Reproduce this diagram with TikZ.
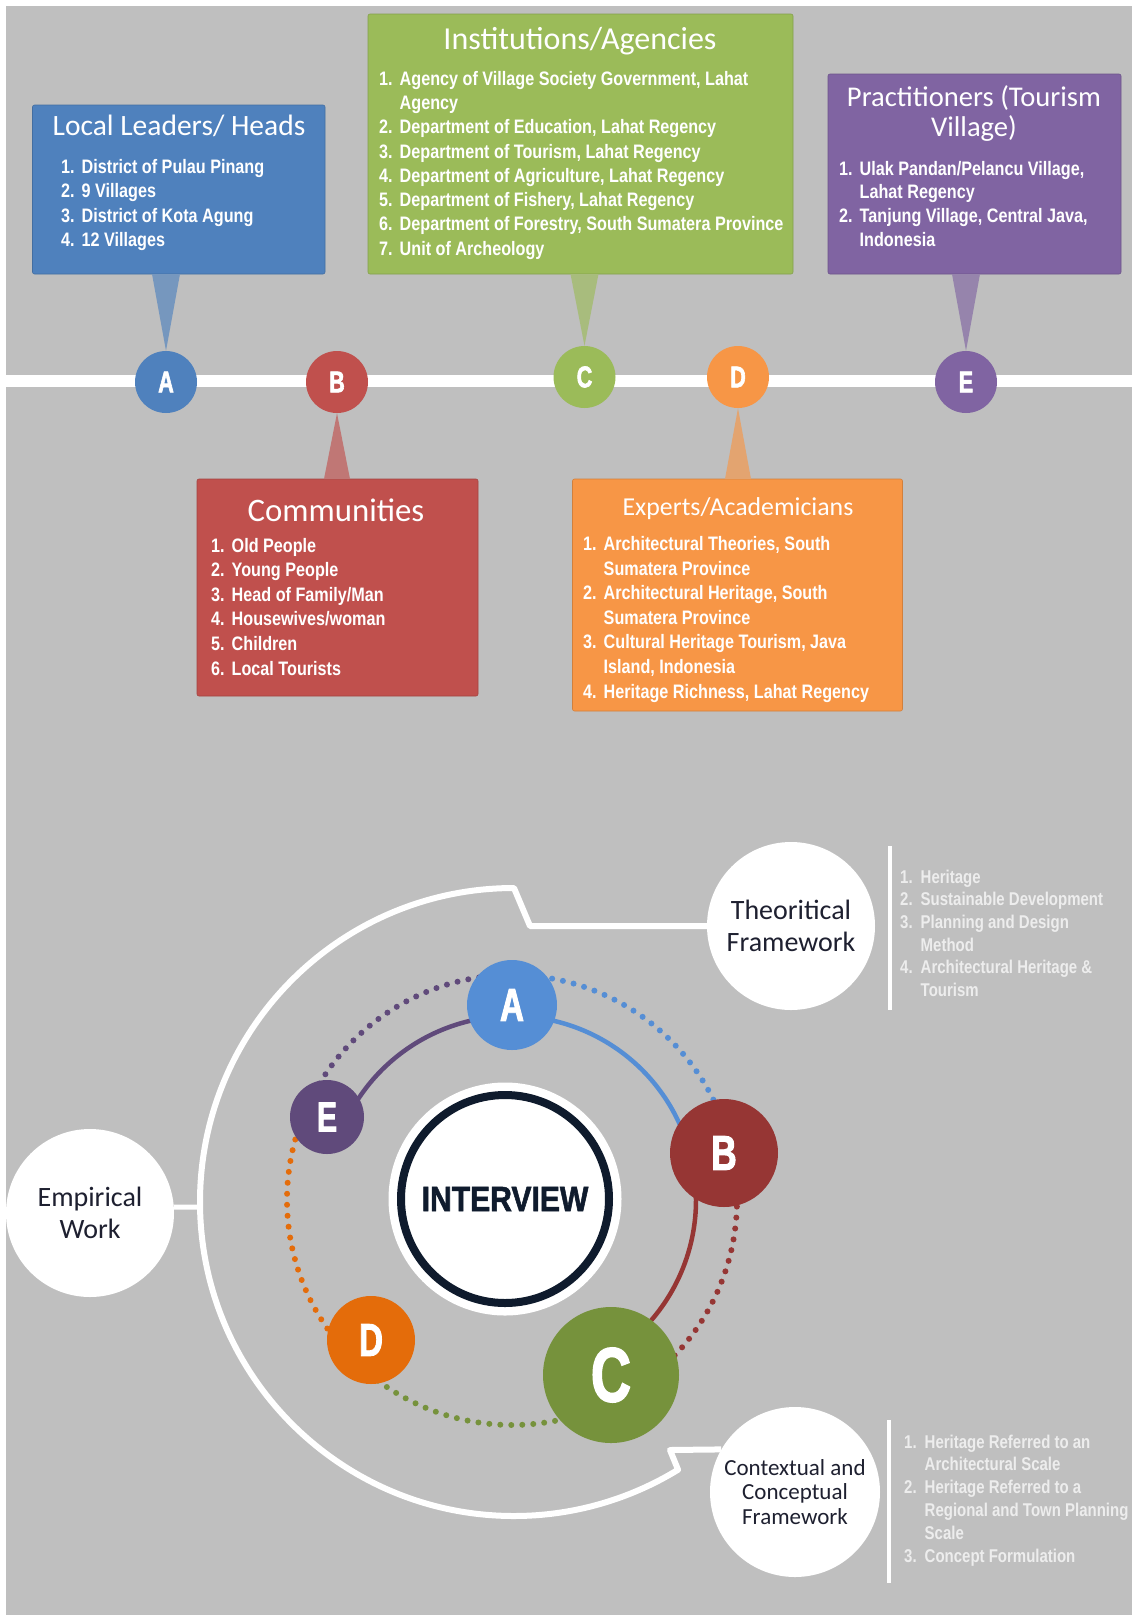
\documentclass[tikz,border=0pt]{standalone}
\usepackage{fontspec}
\setmainfont{Carlito}
\newfontfamily\itemf{Liberation Sans}[FakeStretch=0.83]
\newfontfamily\botf{Liberation Sans}[FakeStretch=0.81]
\newfontfamily\letf{Liberation Sans}[FakeStretch=0.72, FakeBold=2]
\newfontfamily\ivf{Liberation Sans}[FakeStretch=0.86, FakeBold=1.5]
\usetikzlibrary{calc}
\definecolor{bg}{HTML}{BFBFBF}
\definecolor{cblue}{HTML}{4F81BD}
\definecolor{cgreen}{HTML}{9BBB59}
\definecolor{cpurple}{HTML}{8064A2}
\definecolor{cred}{HTML}{C0504D}
\definecolor{corange}{HTML}{F79646}
\definecolor{dblue}{HTML}{558ED5}
\definecolor{dred}{HTML}{963634}
\definecolor{dgreen}{HTML}{76923C}
\definecolor{dorange}{HTML}{E46C0A}
\definecolor{dpurple}{HTML}{604A7B}
\definecolor{navy}{HTML}{0F1B2D}
\definecolor{txt}{HTML}{1E2030}
\definecolor{lst}{HTML}{EDEDED}
\newcommand\nb[1]{\makebox[20.5pt][l]{#1}}
\tikzset{
  box/.style={rounded corners=2pt, inner sep=0pt, outer sep=0pt, draw=#1!85!black, line width=0.6pt, fill=#1},
  ptr/.style={fill=#1!65!bg},
  tcirc/.style={circle, fill=#1, inner sep=0pt, minimum size=62pt, text=white, font=\letf\bfseries\fontsize{30}{30}\selectfont},
  ttl/.style={anchor=base, text=white, inner sep=0pt, font=\fontsize{#1}{#1}\selectfont},
  item/.style={anchor=base west, text=white, inner sep=0pt, font=\itemf\bfseries\fontsize{19.5}{20}\selectfont},
  bitem/.style={anchor=base west, text=lst, inner sep=0pt, font=\botf\bfseries\fontsize{18.5}{19}\selectfont},
  bcirc/.style={circle, fill=#1, inner sep=0pt, text=white},
  wcirc/.style={circle, fill=white, inner sep=0pt, text=txt, align=center},
  sepline/.style={white, line width=4pt},
  dots/.style={draw=#1, line width=6pt, line cap=round, dash pattern=on 0pt off 11pt},
  sarc/.style={draw=#1, line width=4.5pt},
  wline/.style={white, line width=6pt, line join=round}
}
\begin{document}
\begin{tikzpicture}[x=1pt,y=-1pt]
\useasboundingbox (0,0) rectangle (1132,1615);
\fill[white] (0,0) rectangle (1132,1615);
\fill[bg] (6,6) rectangle (1132,1615);

% ---------- top timeline ----------
\coordinate (tlL) at (6,381);
\coordinate (tlR) at (1132,381);
\draw[white, line width=12pt] (tlL) -- (tlR);

\node[box=cblue, minimum width=292.5pt, minimum height=169pt] (ll) at (178.75,189.5) {};
\node[box=cgreen, minimum width=425pt, minimum height=260pt] (ia) at (580.5,144) {};
\node[box=cpurple, minimum width=293pt, minimum height=200pt] (pr) at (974.5,174) {};
\node[box=cred, minimum width=281pt, minimum height=217pt] (cm) at (337.5,587.5) {};
\node[box=corange, minimum width=330pt, minimum height=232pt] (ex) at (737.5,595) {};

\node[tcirc=cblue] (ta) at (166,382) {A};
\node[tcirc=cred] (tb) at (337,382) {B};
\node[tcirc=cgreen] (tc) at (584.5,377) {C};
\node[tcirc=corange] (td) at (738,377) {D};
\node[tcirc=cpurple] (te) at (966,382) {E};

\fill[ptr=cblue] ($(ta |- ll.south)+(-14,0)$) -- ($(ta |- ll.south)+(14,0)$) -- (ta.north) -- cycle;
\fill[ptr=cgreen] ($(tc |- ia.south)+(-14,0)$) -- ($(tc |- ia.south)+(14,0)$) -- (tc.north) -- cycle;
\fill[ptr=cpurple] ($(te |- pr.south)+(-14,0)$) -- ($(te |- pr.south)+(14,0)$) -- (te.north) -- cycle;
\fill[ptr=cred] ($(tb |- cm.north)+(-13,0)$) -- ($(tb |- cm.north)+(13,0)$) -- (tb.south) -- cycle;
\fill[ptr=corange] ($(td |- ex.north)+(-13,0)$) -- ($(td |- ex.north)+(13,0)$) -- (td.south) -- cycle;

% titles
\node[ttl=29.5] (llt) at (179,135) {Local Leaders/ Heads};
\node[ttl=32] (iat) at (580,49) {Institutions/Agencies};
\node[ttl=28.6] (prt1) at (974,106) {Practitioners (Tourism};
\node[ttl=28.6] (prt2) at (974,136) {Village)};
\node[ttl=32.8] (cmt) at (336,521.7) {Communities};
\node[ttl=25.8] (ext) at (738,515) {Experts/Academicians};

% local leaders
\node[item] (ll1) at (61,173) {\nb{1.}District of Pulau Pinang};
\node[item] (ll2) at (61,197.5) {\nb{2.}9 Villages};
\node[item] (ll3) at (61,222) {\nb{3.}District of Kota Agung};
\node[item] (ll4) at (61,246.5) {\nb{4.}12 Villages};

% institutions
\node[item] (ia1) at (379,85) {\nb{1.}Agency of Village Society Government, Lahat};
\node[item] (ia1b) at (399.5,109.3) {Agency};
\node[item] (ia2) at (379,133.6) {\nb{2.}Department of Education, Lahat Regency};
\node[item] (ia3) at (379,158) {\nb{3.}Department of Tourism, Lahat Regency};
\node[item] (ia4) at (379,182.2) {\nb{4.}Department of Agriculture, Lahat Regency};
\node[item] (ia5) at (379,206.5) {\nb{5.}Department of Fishery, Lahat Regency};
\node[item] (ia6) at (379,230.8) {\nb{6.}Department of Forestry, South Sumatera Province};
\node[item] (ia7) at (379,255.1) {\nb{7.}Unit of Archeology};

% practitioners
\node[item] (pr1) at (839,175) {\nb{1.}Ulak Pandan/Pelancu Village,};
\node[item] (pr1b) at (859.5,198.7) {Lahat Regency};
\node[item] (pr2) at (839,222.3) {\nb{2.}Tanjung Village, Central Java,};
\node[item] (pr2b) at (859.5,246) {Indonesia};

% communities
\node[item] (cm1) at (211,552) {\nb{1.}Old People};
\node[item] (cm2) at (211,576.6) {\nb{2.}Young People};
\node[item] (cm3) at (211,601.2) {\nb{3.}Head of Family/Man};
\node[item] (cm4) at (211,625.8) {\nb{4.}Housewives/woman};
\node[item] (cm5) at (211,650.4) {\nb{5.}Children};
\node[item] (cm6) at (211,675) {\nb{6.}Local Tourists};

% experts
\node[item] (ex1) at (583,550.7) {\nb{1.}Architectural Theories, South};
\node[item] (ex1b) at (603.5,575.2) {Sumatera Province};
\node[item] (ex2) at (583,599.8) {\nb{2.}Architectural Heritage, South};
\node[item] (ex2b) at (603.5,624.4) {Sumatera Province};
\node[item] (ex3) at (583,648.9) {\nb{3.}Cultural Heritage Tourism, Java};
\node[item] (ex3b) at (603.5,673.5) {Island, Indonesia};
\node[item] (ex4) at (583,698) {\nb{4.}Heritage Richness, Lahat Regency};

% ---------- bottom cycle ----------
\coordinate (oc) at (514,1202);
\coordinate (dc) at (512,1200);
\coordinate (k1) at (530,926);
\coordinate (k2) at (514,888);
\coordinate (k3) at (670,1450);
\coordinate (ea) at (200,1207);

\node[wcirc, minimum size=168pt, font=\fontsize{28}{31.7}\selectfont] (thf) at (791,926) {Theoritical\\Framework};
\node[wcirc, minimum size=168pt, font=\fontsize{28}{31.7}\selectfont] (emp) at (90,1213) {Empirical\\Work};
\node[wcirc, minimum size=170pt, font=\fontsize{23}{24.3}\selectfont] (ctx) at (795,1492) {Contextual and\\Conceptual\\Framework};

\draw[wline] (thf.west) -- (k1) -- (k2) arc[start angle=90, end angle=301.5, radius=314pt] -- (k3) -- (ctx.150);
\draw[white, line width=5pt] (emp.4) -- (ea);

% dotted ring
\draw[dots=dpurple] ($(dc)+(90:225pt)$) arc[start angle=90, end angle=156, radius=225pt];
\draw[dots=dorange] ($(dc)+(156:225pt)$) arc[start angle=156, end angle=225, radius=225pt];
\draw[dots=dgreen] ($(dc)+(225:225pt)$) arc[start angle=225, end angle=299.5, radius=225pt];
\draw[dots=dred] ($(dc)+(-60.5:225pt)$) arc[start angle=-60.5, end angle=12.5, radius=225pt];
\draw[dots=dblue] ($(dc)+(12.5:225pt)$) arc[start angle=12.5, end angle=90, radius=225pt];

% solid arcs
\draw[sarc=dpurple] ($(dc)+(90:184pt)$) arc[start angle=90, end angle=160, radius=184pt];
\draw[sarc=dblue] ($(dc)+(15:184pt)$) arc[start angle=15, end angle=90, radius=184pt];
\draw[sarc=dred] ($(dc)+(-60:184pt)$) arc[start angle=-60, end angle=5, radius=184pt];

% interview
\node[circle, fill=white, minimum size=233pt, inner sep=0pt] (ivo) at (505,1199) {};
\node[circle, fill=white, draw=navy, line width=8pt, minimum size=208pt, inner sep=0pt, text=navy, font=\ivf\bfseries\fontsize{35}{35}\selectfont] (ivw) at (505,1199) {\raisebox{-3pt}{INTERVIEW}};

% stakeholder circles
\node[bcirc=dblue, minimum size=90pt, font=\letf\bfseries\fontsize{46}{46}\selectfont] (ba) at (512,1005) {A};
\node[bcirc=dred, minimum size=108pt, font=\letf\bfseries\fontsize{49}{49}\selectfont] (bb) at (724,1153) {B};
\node[bcirc=dgreen, minimum size=136pt, font=\letf\bfseries\fontsize{77}{77}\selectfont] (bc) at (611,1375) {C};
\node[bcirc=dorange, minimum size=88pt, font=\letf\bfseries\fontsize{46}{46}\selectfont] (bd) at (371,1340) {D};
\node[bcirc=dpurple, minimum size=74pt, font=\letf\bfseries\fontsize{42}{42}\selectfont] (be) at (327,1117) {E};

% side lists
\coordinate (s1a) at (889.5,846);
\coordinate (s1b) at (889.5,1010);
\coordinate (s2a) at (889,1420);
\coordinate (s2b) at (889,1583);
\draw[sepline] (s1a) -- (s1b);
\draw[sepline] (s2a) -- (s2b);

\node[bitem] (tl1) at (900,883) {\nb{1.}Heritage};
\node[bitem] (tl2) at (900,905.7) {\nb{2.}Sustainable Development};
\node[bitem] (tl3) at (900,928.4) {\nb{3.}Planning and Design};
\node[bitem] (tl3b) at (920.5,951.1) {Method};
\node[bitem] (tl4) at (900,973.8) {\nb{4.}Architectural Heritage \&};
\node[bitem] (tl4b) at (920.5,996.5) {Tourism};

\node[bitem] (cl1) at (904,1448) {\nb{1.}Heritage Referred to an};
\node[bitem] (cl1b) at (924.5,1470.9) {Architectural Scale};
\node[bitem] (cl2) at (904,1493.8) {\nb{2.}Heritage Referred to a};
\node[bitem] (cl2b) at (924.5,1516.7) {Regional and Town Planning};
\node[bitem] (cl2c) at (924.5,1539.6) {Scale};
\node[bitem] (cl3) at (904,1562.5) {\nb{3.}Concept Formulation};
\end{tikzpicture}
\end{document}
